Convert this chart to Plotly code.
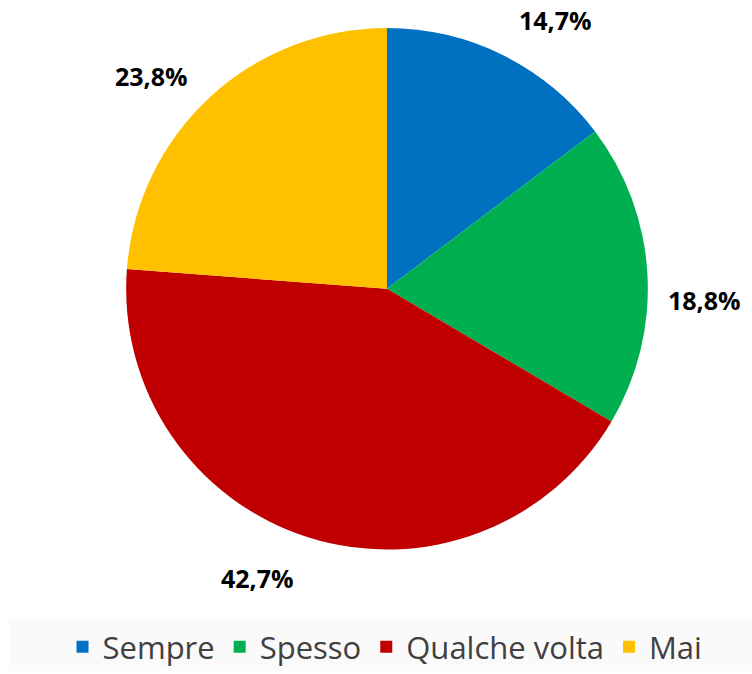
import math
import plotly.graph_objects as go

categories = ["Sempre", "Spesso", "Qualche volta", "Mai"]
values = [14.7, 18.8, 42.7, 23.8]
colors = ["#0070C0", "#00B050", "#C00000", "#FFC000"]

# label placement style: angular nudge (degrees) from slice mid-angle, radial distance (px)
label_nudge_deg = [5.5, 5.2, 6.5, -5.0]
label_dist = 318

W, H = 752, 674
cx, cy, r = 387, 290, 262

fig = go.Figure(go.Pie(
    labels=categories, values=values, sort=False, direction="clockwise",
    rotation=0, marker=dict(colors=colors, line=dict(width=0)),
    textinfo="none", hoverinfo="label+percent",
    domain=dict(x=[(cx - r) / W, (cx + r) / W], y=[1 - (cy + r) / H, 1 - (cy - r) / H]),
))

total = sum(values)
cum = 0
annotations = []
for v, nd in zip(values, label_nudge_deg):
    mid = (cum + v / 2) / total * 2 * math.pi + math.radians(nd)
    cum += v
    x = cx + label_dist * math.sin(mid)
    y = cy - label_dist * math.cos(mid)
    annotations.append(dict(
        x=x / W, y=1 - y / H, xref="paper", yref="paper", showarrow=False,
        text=f"{v:.1f}".replace(".", ",") + "%",
        font=dict(family="Open Sans", size=25, color="#000000", weight="bold"),
        xanchor="center", yanchor="middle",
    ))

fig.update_layout(
    width=W, height=H, margin=dict(l=0, r=0, t=0, b=0),
    paper_bgcolor="white", plot_bgcolor="white",
    annotations=annotations,
    shapes=[dict(type="rect", xref="paper", yref="paper", x0=9 / W, x1=1,
                 y0=0, y1=(H - 622) / H, fillcolor="#FAFAFA", line=dict(width=0), layer="below")],
    legend=dict(orientation="h", x=0.512, xanchor="center", y=(H - 650) / H, yanchor="middle",
                font=dict(family="Open Sans", size=31, color="#404040"),
                bgcolor="rgba(0,0,0,0)", itemsizing="constant", traceorder="normal"),
)

fig.write_html("out.html")
